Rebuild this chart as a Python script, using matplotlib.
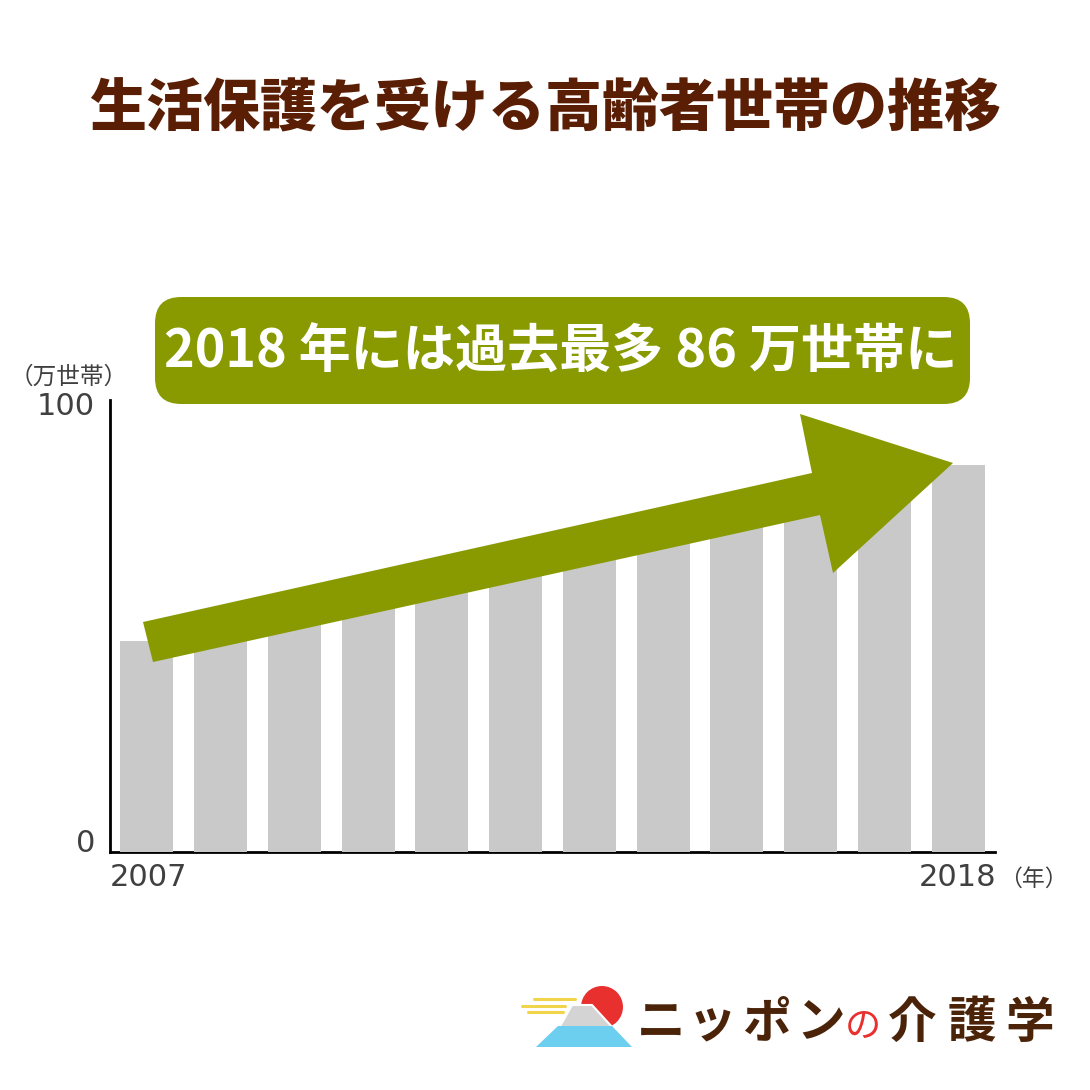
import numpy as np
import matplotlib
matplotlib.use('Agg')
import matplotlib.pyplot as plt
import matplotlib.transforms as mtransforms
from matplotlib.patches import Polygon, FancyBboxPatch, Circle

plt.rcParams['font.family'] = ['Noto Sans CJK JP', 'DejaVu Sans']

# data (万世帯) - 2007..2018
years = [2007, 2008, 2009, 2010, 2011, 2012, 2013, 2014, 2015, 2016, 2017, 2018]
households = [47, 51, 55, 58, 62, 65, 69, 72, 76, 79, 83, 86]
y_ticks = [0, 100]

title = '生活保護を受ける高齢者世帯の推移'
banner = '2018 年には過去最多 86 万世帯に'
logo_chars = ['ニ', 'ッ', 'ポ', 'ン', 'の', '介', '護', '学']

W = 1090
olive = '#889a00'
brown = '#5a1e05'
gray_txt = '#404040'


def px(x, y):
    # pixel position -> figure fraction
    return (x / W, 1 - y / W)


fig = plt.figure(figsize=(10.9, 10.9), dpi=100)
ax = fig.add_axes([110 / W, 1 - 852 / W, 885 / W, 452 / W])

xs = np.arange(len(years))
ax.bar(xs, households, width=0.72, color='#c9c9c9', zorder=2)
ax.set_xlim(-0.5, len(years) - 0.5)
ax.set_ylim(0, 100.5)

for s in ['top', 'right']:
    ax.spines[s].set_visible(False)
ax.spines['left'].set_linewidth(2)
ax.spines['bottom'].set_linewidth(2)
ax.spines['bottom'].set_zorder(1)
ax.set_xticks([])
ax.set_yticks([])

# y labels; the original nudges "0" up and "100" down a bit
ybase = mtransforms.blended_transform_factory(ax.transAxes, ax.transData)
for t, dy in zip(y_ticks, [9, -4]):
    tr = ybase + mtransforms.ScaledTranslation(-15 / 100, dy / 100, fig.dpi_scale_trans)
    ax.text(0, t, str(t), transform=tr, ha='right', va='center',
            fontsize=22, color=gray_txt, family='DejaVu Sans')

# x labels: first and last year only
ax.text(0, -0.025, str(years[0]), transform=ax.transAxes, ha='left', va='top',
        fontsize=22, color=gray_txt, family='DejaVu Sans')
ax.text(1.002, -0.025, str(years[-1]), transform=ax.transAxes, ha='right', va='top',
        fontsize=22, color=gray_txt, family='DejaVu Sans')
fig.text(*px(1033, 879), '（年）', ha='center', va='center', fontsize=16.5, color=gray_txt)
fig.text(*px(69, 377), '（万世帯）', ha='center', va='center', fontsize=17, color=gray_txt)

# title
fig.text(*px(545, 110), title, ha='center', va='center', fontsize=41,
         fontweight='heavy', color=brown)

# banner
bx0, by0 = px(155, 404)
bx1, by1 = px(970, 297)
fig.patches.append(FancyBboxPatch((bx0, by0), bx1 - bx0, by1 - by0,
                                  boxstyle='round,pad=0,rounding_size=0.024',
                                  transform=fig.transFigure, facecolor=olive,
                                  edgecolor='none', zorder=5))
fig.text(*px(561, 352), banner, ha='center', va='center', fontsize=37.5,
         fontweight='bold', color='white', zorder=6)

# big arrow over the bars
arrow_pts = [(143, 622), (812, 473), (800, 414), (953, 463),
             (833, 573), (820, 515), (153, 662)]
fig.patches.append(Polygon([px(*p) for p in arrow_pts], closed=True,
                           transform=fig.transFigure, facecolor=olive,
                           edgecolor='none', zorder=5))

# logo: sun, fuji, clouds
fig.patches.append(Circle(px(602, 1007), 21 / W, transform=fig.transFigure,
                          facecolor='#e8302f', edgecolor='none', zorder=5))
fig.patches.append(Polygon([px(*p) for p in
                            [(572, 1005), (592, 1005), (613, 1028), (559, 1028)]],
                           closed=True, transform=fig.transFigure,
                           facecolor='#d4d4d4', edgecolor='white', lw=1.5, zorder=6))
fig.patches.append(Polygon([px(*p) for p in
                            [(536, 1047), (558, 1026), (612, 1026), (632, 1047)]],
                           closed=True, transform=fig.transFigure,
                           facecolor='#6ccff0', edgecolor='none', zorder=7))
for (x0, x1, yy) in [(534, 575, 999), (522, 565, 1006), (528, 563, 1012)]:
    fig.lines.append(plt.Line2D([x0 / W, x1 / W], [1 - yy / W, 1 - yy / W],
                                transform=fig.transFigure, color='#f0d44a',
                                lw=2.2, solid_capstyle='round', zorder=6))

# logo text, one glyph at a time (wide letter spacing)
logo_x = [661, 712, 766, 821, 863, 912, 972, 1030]
for ch, cx in zip(logo_chars, logo_x):
    red = ch == 'の'
    fig.text(*px(cx, 1027 if red else 1023), ch, ha='center', va='center',
             fontsize=26 if red else 35, fontweight='normal' if red else 'bold',
             color='#e8302f' if red else '#4a2308')

fig.savefig('out.png', dpi=100, facecolor='white')
